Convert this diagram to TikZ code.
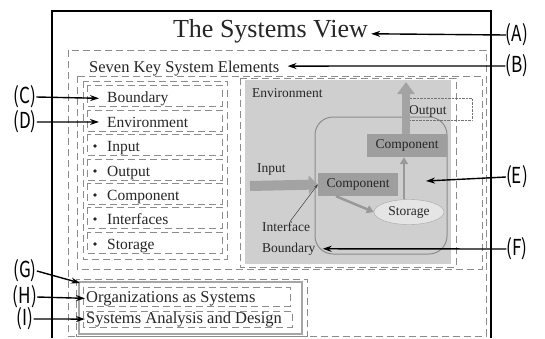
\documentclass[tikz,border=0pt]{standalone}
\usepackage{graphicx}
\usepackage{fontspec}
\setmainfont{Liberation Serif}
\newfontfamily\tagfont{Noto Sans CJK JP}
\usetikzlibrary{arrows.meta,shapes.geometric}

\newcommand{\tagname}[1]{\scalebox{0.78}[1]{#1}}

\tikzset{
  dashbox/.style={draw=black!45, line width=0.8pt, dash pattern=on 7pt off 4pt},
  callout/.style={black, line width=1.4pt, -{Stealth[length=9pt,width=6pt]}},
  tagtxt/.style={inner sep=0pt, font=\tagfont\fontsize{22}{22}\selectfont},
  item/.style={anchor=base west, inner sep=0pt, text=black!85, font=\fontsize{15.5}{16}\selectfont},
  dlabel/.style={anchor=base west, inner sep=0pt, text=black!85, font=\fontsize{13.5}{14}\selectfont},
  compbox/.style={fill=black!38, inner sep=0pt, text=black!85, font=\fontsize{13.5}{14}\selectfont},
  bigarrow/.style={draw=black!36},
  midarrow/.style={draw=black!40, line width=2.5pt, -{Triangle[length=7pt,width=8pt]}}
}

\begin{document}
\begin{tikzpicture}[x=1pt, y=-1pt]
\useasboundingbox (0,0) rectangle (545,338);
\fill[white] (0,0) rectangle (545,338);

% frame
\draw[black, line width=2pt] (52,338) -- (52,11) -- (491,11) -- (491,338);
\draw[dashbox] (68,50) rectangle (486,336);
\draw[dashbox] (77,76) rectangle (482,269);
\draw[dashbox] (83,81) rectangle (227,259);

\node[anchor=base, inner sep=0pt, text=black!85, font=\fontsize{26}{26}\selectfont] (title) at (270.5,37) {The Systems View};
\node[item, font=\fontsize{16.5}{17}\selectfont] (seven) at (89,72) {Seven Key System Elements};

% seven elements
\foreach \y/\name/\txt in {97/bnd/Boundary, 122/env/Environment, 146/inp/Input, 171/outp/Output,
                           195/comp/Component, 219/intf/Interfaces, 244/stor/Storage}{
  \draw[dashbox] (87,\y-12) rectangle (222,\y+9);
  \node[item] (\name) at (107,\y+5) {\txt};
}
\foreach \y in {146,171,195,219,244}
  \fill[black!85] (95,\y) circle (1.8pt);

% system picture
\draw[dashbox] (240,78) rectangle (456,267);
\fill[black!19] (245,80) rectangle (451,264);
\draw[black!45, line width=1pt, rounded corners=18pt] (315,117) rectangle (447,254);
\draw[densely dotted, black!55] (407,98) rectangle (472,120);

\node[dlabel] (envlbl) at (252,97) {Environment};
\node[dlabel] (inlbl) at (257,172) {Input};
\node[dlabel] (outlbl) at (409,114) {Output};
\node[dlabel] (ifacelbl) at (262,231) {Interface};
\node[dlabel] (bndlbl) at (262,252) {Boundary};

\node[compbox, minimum width=80pt, minimum height=23pt] (compup) at (407,145.5) {Component};
\node[compbox, minimum width=80pt, minimum height=23pt] (complow) at (358,184.5) {Component};
\node[ellipse, draw=black!35, fill=black!10, inner sep=0pt, minimum width=70pt, minimum height=25pt,
      text=black!85, font=\fontsize{13.5}{14}\selectfont] (storage) at (409,212) {Storage};

\coordinate (inbeg) at (250,186);
\coordinate (outend) at (406,82);
\draw[bigarrow, line width=10pt, -{Triangle[length=9pt,width=18pt]}] (inbeg) -- (complow.west);
\draw[bigarrow, line width=8pt, -{Triangle[length=12pt,width=17pt]}] (compup.north -| outend) -- (outend);
\draw[midarrow] ([xshift=-22pt]complow.south) -- (storage.west);
\draw[midarrow] ([xshift=-5pt]storage.north) -- ([xshift=-3pt]compup.south);
\draw[black!75, line width=0.5pt, -{Stealth[length=4pt,width=3pt]}] ([xshift=4pt]ifacelbl.north) -- (complow.west);

% bottom
\draw[dashbox] (76,279) rectangle (307,336);
\draw[black!35, line width=1.6pt] (79,282) rectangle (302,334);
\draw[dashbox] (83,287) rectangle (290,306);
\draw[dashbox] (83,311) rectangle (292,327);
\node[item, font=\fontsize{16.5}{17}\selectfont] (org) at (86,302) {Organizations as Systems};
\node[item, font=\fontsize{16.5}{17}\selectfont] (sad) at (86,323) {Systems Analysis and Design};
\coordinate (orgbox) at (80,283);
\coordinate (sysin) at (426,181);

% tags
\node[tagtxt] (la) at (517,35) {\tagname{(A)}};
\node[tagtxt] (lb) at (517,66) {\tagname{(B)}};
\node[tagtxt] (lc) at (25,97) {\tagname{(C)}};
\node[tagtxt] (ld) at (25,122) {\tagname{(D)}};
\node[tagtxt] (le) at (517,177) {\tagname{(E)}};
\node[tagtxt] (lf) at (517,249) {\tagname{(F)}};
\node[tagtxt] (lg) at (25,271) {\tagname{(G)}};
\node[tagtxt] (lh) at (25,297) {\tagname{(H)}};
\node[tagtxt] (li) at (25,319) {\tagname{(I)}};

\draw[callout] (la.west) -- ([xshift=3pt,yshift=-3pt]title.east);
\draw[callout] (lb.west) -- ([xshift=8pt,yshift=2pt]seven.east);
\draw[callout] (lc.east) -- ([xshift=-8pt]bnd.west);
\draw[callout] (ld.east) -- ([xshift=-8pt]env.west);
\draw[callout] (le.west) -- (sysin);
\draw[callout] (lf.west) -- ([xshift=7pt]bndlbl.east);
\draw[callout] (lg.east) -- (orgbox);
\draw[callout] (lh.east) -- ([xshift=-1pt]org.west);
\draw[callout] (li.east) -- ([xshift=-1pt]sad.west);
\end{tikzpicture}
\end{document}
